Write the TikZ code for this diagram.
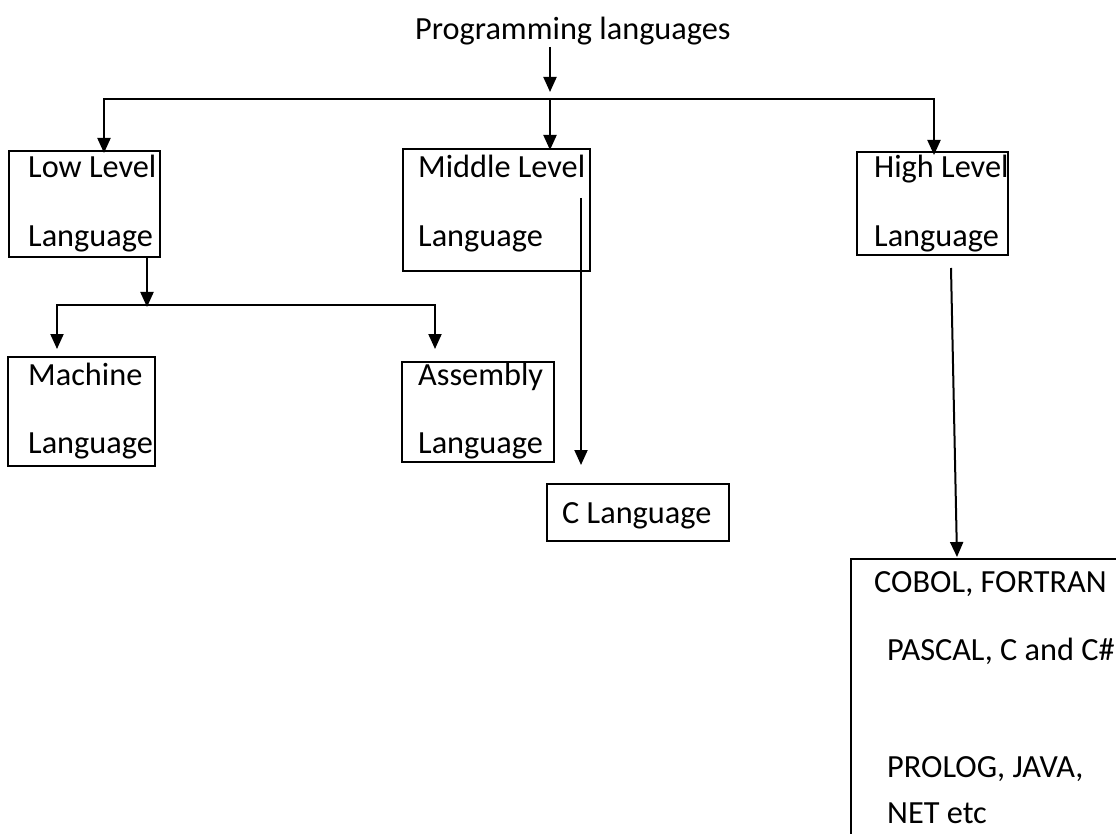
\documentclass[tikz,border=0pt]{standalone}
\usepackage{fontspec}
\setmainfont{Carlito}
\usetikzlibrary{arrows.meta}
\begin{document}
\begin{tikzpicture}[x=1pt,y=-1pt,
  conn/.style={line width=2pt},
  arr/.style={line width=2pt,-{Triangle[length=15pt,width=13pt]}},
  arr2/.style={line width=2pt,{Triangle[length=15pt,width=13pt]}-{Triangle[length=15pt,width=13pt]}},
  boxr/.style={draw,line width=1.8pt,inner sep=0pt,outer sep=0pt,anchor=north west},
  txt/.style={anchor=base west,inner sep=0pt,font=\fontsize{32.3}{38}\selectfont}]
\useasboundingbox (0,0) rectangle (1116,834);
\clip (0,0) rectangle (1116,834);

% boxes
\node[boxr,minimum width=151pt,minimum height=106pt] (low) at (9,151) {};
\node[boxr,minimum width=187pt,minimum height=122pt] (mid) at (403,149) {};
\node[boxr,minimum width=151pt,minimum height=103pt] (high) at (857,152) {};
\node[boxr,minimum width=147pt,minimum height=109pt] (mach) at (8,357) {};
\node[boxr,minimum width=152pt,minimum height=100pt] (asm) at (402,362) {};
\node[boxr,minimum width=182pt,minimum height=57pt] (clang) at (547,484) {};
\node[boxr,minimum width=300pt,minimum height=320pt] (hll) at (851,559) {};

% texts
\node[txt] (title) at (415,40) {Programming languages};
\node[txt] (lowA) at (28,178) {Low Level};
\node[txt] (lowB) at (28,247) {Language};
\node[txt] (midA) at (418,178) {Middle Level};
\node[txt] (midB) at (418,247) {Language};
\node[txt] (highA) at (874,178) {High Level};
\node[txt] (highB) at (874,247) {Language};
\node[txt] (machA) at (28,385) {Machine};
\node[txt] (machB) at (28,453) {Language};
\node[txt] (asmA) at (418,385) {Assembly};
\node[txt] (asmB) at (418,453) {Language};
\node[txt] (clangA) at (562,523) {C Language};
\node[txt] (hllA) at (874,592) {COBOL, FORTRAN};
\node[txt] (hllB) at (887,660) {PASCAL, C and C\#};
\node[txt] (hllC) at (887,777) {PROLOG, JAVA,};
\node[txt] (hllD) at (887,823) {NET etc};

% junction coordinates
\coordinate (t0) at (550,47);
\coordinate (t1) at (550,92);
\coordinate (j0) at (550,99);
\coordinate (jL) at (104,99);
\coordinate (jR) at (934,99);
\coordinate (l0) at (147,305);
\coordinate (lL) at (57,305);
\coordinate (lR) at (435,305);
\coordinate (mT) at (57,349);
\coordinate (aT) at (435,349);
\coordinate (m0) at (581,198);
\coordinate (cT) at (581,465);
\coordinate (h0) at (951,268);
\coordinate (hT) at (957,557);

% connectors
\draw[arr] (t0) -- (t1);
\draw[arr2] ([yshift=-2pt]low.north -| jL) -- (jL) -- (jR) -- ([yshift=-3pt]high.north -| jR);
\draw[arr] (j0) -- ([yshift=-1pt]mid.north -| j0);
\draw[arr] (low.south -| l0) -- ([yshift=-2pt]l0);
\draw[arr2] (mT) -- (lL) -- (lR) -- (aT);
\draw[arr] (m0) -- (cT);
\draw[arr] (h0) -- (hT);
\end{tikzpicture}
\end{document}
